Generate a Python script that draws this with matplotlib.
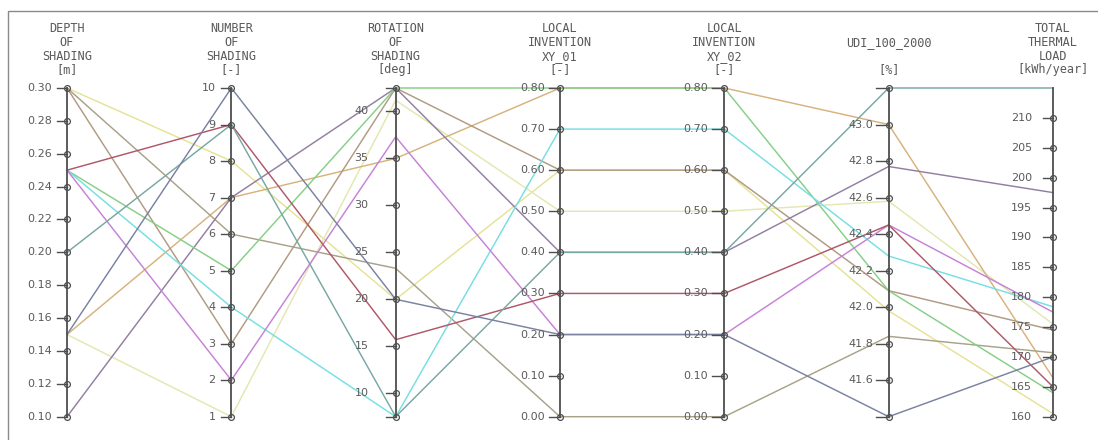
import matplotlib
matplotlib.use("Agg")
import matplotlib.pyplot as plt
from matplotlib.patches import Rectangle
from matplotlib.transforms import blended_transform_factory

# ---- design variables and results, one entry per simulated case ----
depth = [0.30, 0.15, 0.15, 0.30, 0.30, 0.10, 0.25, 0.25, 0.25, 0.25, 0.20, 0.15]
number = [8, 1, 7, 3, 6, 7, 5, 4, 2, 9, 9, 10]
rotation = [20.0, 41.2, 35.0, 42.5, 23.3, 42.5, 42.5, 7.5, 37.3, 15.7, 7.5, 20.0]
xy_01 = [0.6, 0.5, 0.8, 0.6, 0.0, 0.4, 0.8, 0.7, 0.2, 0.3, 0.4, 0.2]
xy_02 = [0.6, 0.5, 0.8, 0.6, 0.0, 0.4, 0.8, 0.7, 0.2, 0.3, 0.4, 0.2]
udi = [41.98, 42.58, 43.00, 42.09, 41.84, 42.77, 42.09, 42.28, 42.45, 42.45, 43.20, 41.40]
thermal = [160.5, 175.5, 166.5, 174.5, 170.7, 197.5, 164.0, 178.4, 177.5, 165.0, 215.0, 170.0]
case_colors = ["#e6e296", "#e2e8b0", "#d8b27c", "#b09a82", "#a8a28a", "#927ea2",
               "#86cf86", "#76dfe4", "#c682d6", "#b05868", "#78a8a4", "#7a82a2"]

# ---- axis definitions ----
headers = [
    ["DEPTH", "OF", "SHADING", "[m]"],
    ["NUMBER", "OF", "SHADING", "[-]"],
    ["ROTATION", "OF", "SHADING", "[deg]"],
    ["LOCAL", "INVENTION", "XY_01", "[-]"],
    ["LOCAL", "INVENTION", "XY_02", "[-]"],
    ["", "UDI_100_2000", "", "[%]"],
    ["TOTAL", "THERMAL", "LOAD", "[kWh/year]"],
]
ranges = [(0.10, 0.30), (1, 10), (7.5, 42.5), (0.0, 0.8), (0.0, 0.8), (41.4, 43.2), (160, 215)]
tick_values = [
    [0.10, 0.12, 0.14, 0.16, 0.18, 0.20, 0.22, 0.24, 0.26, 0.28, 0.30],
    [1, 2, 3, 4, 5, 6, 7, 8, 9, 10],
    [7.5, 10, 15, 20, 25, 30, 35, 40, 42.5],
    [0.0, 0.1, 0.2, 0.3, 0.4, 0.5, 0.6, 0.7, 0.8],
    [0.0, 0.1, 0.2, 0.3, 0.4, 0.5, 0.6, 0.7, 0.8],
    [41.4, 41.6, 41.8, 42.0, 42.2, 42.4, 42.6, 42.8, 43.0, 43.2],
    [160, 165, 170, 175, 180, 185, 190, 195, 200, 205, 210],
]
tick_labels = [
    ["0.10", "0.12", "0.14", "0.16", "0.18", "0.20", "0.22", "0.24", "0.26", "0.28", "0.30"],
    ["1", "2", "3", "4", "5", "6", "7", "8", "9", "10"],
    ["", "10", "15", "20", "25", "30", "35", "40", ""],
    ["0.00", "0.10", "0.20", "0.30", "0.40", "0.50", "0.60", "0.70", "0.80"],
    ["0.00", "0.10", "0.20", "0.30", "0.40", "0.50", "0.60", "0.70", "0.80"],
    ["", "41.6", "41.8", "42.0", "42.2", "42.4", "42.6", "42.8", "43.0", ""],
    ["160", "165", "170", "175", "180", "185", "190", "195", "200", "205", "210"],
]
columns = [depth, number, rotation, xy_01, xy_02, udi, thermal]

# layout (pixels)
W, H, DPI = 1098, 440, 100
X0, X1 = 67, 1053
Y_TOP, Y_BOT = 88, 416.7
label_gap_px = [15, 16, 27, 15, 16, 15, 21]
dash_px = [10, 10, 10, 11, 12, 13, 10]
header_rows_px = [29, 43, 57, 70]

AXIS_C = "#4e4e4e"
TEXT_C = "#5a5a5a"

fig = plt.figure(figsize=(W / DPI, H / DPI), dpi=DPI)
fig.patch.set_facecolor("white")
ax = fig.add_axes([X0 / W, 1 - Y_BOT / H, (X1 - X0) / W, (Y_BOT - Y_TOP) / H])
ax.set_xlim(0, 6)
ax.set_ylim(0, 1)
ax.axis("off")

px_per_unit = (X1 - X0) / 6.0


def norm(v, k):
    lo, hi = ranges[k]
    return (v - lo) / (hi - lo)


# polylines for every case
for r in range(len(depth)):
    ys = [norm(columns[k][r], k) for k in range(7)]
    ax.plot(range(7), ys, color=case_colors[r], lw=1.05, zorder=2,
            clip_on=False, solid_joinstyle="miter")

# vertical axes, tick dashes, circles and labels
for k in range(7):
    ax.plot([k, k], [0, 1], color=AXIS_C, lw=1.3, zorder=3, clip_on=False)
    dl = dash_px[k] / px_per_unit
    for v, lab in zip(tick_values[k], tick_labels[k]):
        yn = norm(v, k)
        ax.plot([k - dl, k], [yn, yn], color=AXIS_C, lw=1.0, zorder=3, clip_on=False)
        ax.plot([k], [yn], marker="o", ms=4.2, mfc="none", mec=AXIS_C, mew=0.9,
                zorder=4, clip_on=False)
        if lab:
            ax.annotate(lab, xy=(k, yn), xytext=(-label_gap_px[k] * 0.72, 0),
                        textcoords="offset points", ha="right", va="center",
                        fontsize=8, color=TEXT_C, family="DejaVu Sans")

# column headers
htrans = blended_transform_factory(ax.transData, fig.transFigure)
for k in range(7):
    for row, txt in enumerate(headers[k]):
        if txt:
            ax.text(k, 1 - header_rows_px[row] / H, txt, transform=htrans,
                    ha="center", va="center", fontsize=8.6, color=TEXT_C,
                    family="DejaVu Sans Mono")

# frame around the plot area
fig.add_artist(Rectangle((8 / W, -0.2), 1.5, 1.2 - 11 / H, transform=fig.transFigure,
                         fill=False, edgecolor="#8a8a8a", lw=1.0))

fig.savefig("out.png", dpi=DPI, facecolor="white")
